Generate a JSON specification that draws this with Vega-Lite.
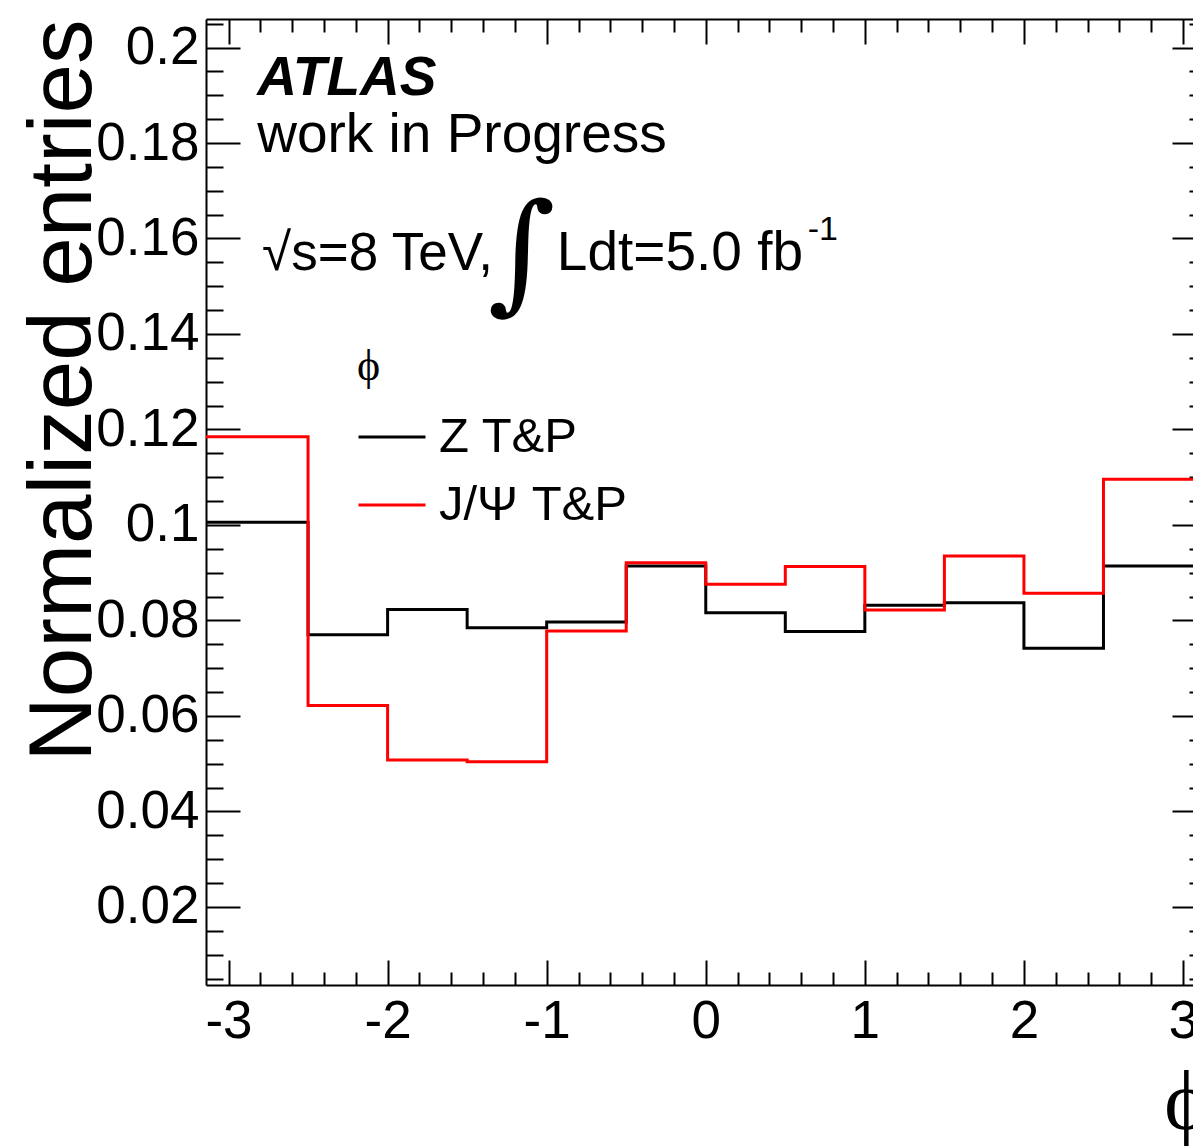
{
  "$schema": "https://vega.github.io/schema/vega-lite/v6.json",
  "width": 987,
  "height": 966,
  "autosize": {"type": "none"},
  "padding": {"left": 206, "top": 19, "right": 0, "bottom": 161},
  "background": "white",
  "config": {
    "view": {"stroke": null},
    "axis": {"grid": false, "domainColor": "black", "tickColor": "black", "labelColor": "black", "titleColor": "black"},
    "text": {"font": "Liberation Sans", "color": "black"}
  },
  "data": {
    "values": [
      {"edge": -3.1416, "sample": "Z T&P", "entries": 0.1006},
      {"edge": -2.5, "sample": "Z T&P", "entries": 0.0770},
      {"edge": -2.0, "sample": "Z T&P", "entries": 0.0823},
      {"edge": -1.5, "sample": "Z T&P", "entries": 0.0785},
      {"edge": -1.0, "sample": "Z T&P", "entries": 0.0797},
      {"edge": -0.5, "sample": "Z T&P", "entries": 0.0914},
      {"edge": 0.0, "sample": "Z T&P", "entries": 0.0816},
      {"edge": 0.5, "sample": "Z T&P", "entries": 0.0777},
      {"edge": 1.0, "sample": "Z T&P", "entries": 0.0832},
      {"edge": 1.5, "sample": "Z T&P", "entries": 0.0837},
      {"edge": 2.0, "sample": "Z T&P", "entries": 0.0742},
      {"edge": 2.5, "sample": "Z T&P", "entries": 0.0914},
      {"edge": 3.1416, "sample": "Z T&P", "entries": 0.0914},
      {"edge": -3.1416, "sample": "J/Ψ T&P", "entries": 0.1185},
      {"edge": -2.5, "sample": "J/Ψ T&P", "entries": 0.0622},
      {"edge": -2.0, "sample": "J/Ψ T&P", "entries": 0.0508},
      {"edge": -1.5, "sample": "J/Ψ T&P", "entries": 0.0504},
      {"edge": -1.0, "sample": "J/Ψ T&P", "entries": 0.0778},
      {"edge": -0.5, "sample": "J/Ψ T&P", "entries": 0.0921},
      {"edge": 0.0, "sample": "J/Ψ T&P", "entries": 0.0876},
      {"edge": 0.5, "sample": "J/Ψ T&P", "entries": 0.0913},
      {"edge": 1.0, "sample": "J/Ψ T&P", "entries": 0.0822},
      {"edge": 1.5, "sample": "J/Ψ T&P", "entries": 0.0935},
      {"edge": 2.0, "sample": "J/Ψ T&P", "entries": 0.0857},
      {"edge": 2.5, "sample": "J/Ψ T&P", "entries": 0.1096},
      {"edge": 3.1416, "sample": "J/Ψ T&P", "entries": 0.1096}
    ]
  },
  "resolve": {"axis": {"x": "independent", "y": "independent"}},
  "layer": [
    {
      "transform": [{"filter": "datum.sample === 'Z T&P'"}],
      "mark": {"type": "line", "interpolate": "step-after", "strokeWidth": 3, "clip": true},
      "encoding": {
        "x": {
          "field": "edge", "type": "quantitative",
          "scale": {"domain": [-3.1416, 3.0628], "nice": false, "zero": false},
          "axis": {
            "orient": "bottom", "values": [-3, -2, -1, 0, 1, 2, 3],
            "labelExpr": "'' + datum.value",
            "ticks": false, "tickSize": 0, "domainWidth": 2,
            "labelFont": "Liberation Sans", "labelFontSize": 53, "labelPadding": 10,
            "labelFlush": false, "labelOverlap": false,
            "title": "ϕ", "titleFont": "Liberation Serif", "titleFontSize": 84, "titleFontWeight": "normal",
            "titleAlign": "right", "titleBaseline": "alphabetic", "titleX": 1002, "titleY": 143
          }
        },
        "y": {
          "field": "entries", "type": "quantitative",
          "scale": {"domain": [0.00366, 0.20597], "nice": false, "zero": false},
          "axis": {
            "orient": "left", "values": [0.02, 0.04, 0.06, 0.08, 0.1, 0.12, 0.14, 0.16, 0.18, 0.2],
            "labelExpr": "'' + datum.value",
            "ticks": false, "tickSize": 0, "domainWidth": 2,
            "labelFont": "Liberation Sans", "labelFontSize": 53, "labelPadding": 7,
            "labelFlush": false, "labelOverlap": false,
            "title": "Normalized entries", "titleFont": "Liberation Sans", "titleFontSize": 89, "titleFontWeight": "normal",
            "titleAngle": -90, "titleAlign": "right", "titleBaseline": "alphabetic", "titleX": -116, "titleY": 0
          }
        },
        "color": {
          "field": "sample", "type": "nominal",
          "scale": {"domain": ["Z T&P", "J/Ψ T&P"], "range": ["#000000", "#ff0000"]},
          "legend": {
            "orient": "none", "legendX": 151, "legendY": 326, "padding": 0,
            "title": "ϕ", "titleFont": "Liberation Serif", "titleFontSize": 44, "titleFontWeight": "normal", "titleColor": "black", "titlePadding": 13,
            "symbolType": "stroke", "symbolStrokeWidth": 3, "symbolSize": 4489,
            "labelFont": "Liberation Sans", "labelFontSize": 49, "labelColor": "black", "labelOffset": 12, "labelLimit": 0, "rowPadding": 8
          }
        }
      }
    },
    {
      "transform": [{"filter": "datum.sample === 'J/Ψ T&P'"}],
      "mark": {"type": "line", "interpolate": "step-after", "strokeWidth": 3, "clip": true},
      "encoding": {
        "x": {"field": "edge", "type": "quantitative", "axis": null},
        "y": {"field": "entries", "type": "quantitative", "axis": null},
        "color": {"field": "sample", "type": "nominal"}
      }
    },
    {
      "data": {"values": [{}]},
      "mark": {"type": "text", "text": "ATLAS", "fontSize": 55, "fontWeight": "bold", "fontStyle": "italic", "align": "left", "baseline": "alphabetic"},
      "encoding": {
        "x": {"datum": -2.82, "type": "quantitative",
          "axis": {"orient": "bottom", "values": [-3, -2, -1, 0, 1, 2, 3], "labels": false, "domain": false, "tickSize": -25, "tickWidth": 2, "title": null}},
        "y": {"datum": 0.1901, "type": "quantitative",
          "axis": {"orient": "left", "values": [0.02, 0.04, 0.06, 0.08, 0.1, 0.12, 0.14, 0.16, 0.18, 0.2], "labels": false, "domain": false, "tickSize": -34, "tickWidth": 2, "title": null}}
      }
    },
    {
      "data": {"values": [{}]},
      "mark": {"type": "text", "text": "work in Progress", "fontSize": 55, "align": "left", "baseline": "alphabetic"},
      "encoding": {
        "x": {"datum": -2.82, "type": "quantitative",
          "axis": {"orient": "bottom", "values": [-2.8, -2.6, -2.4, -2.2, -1.8, -1.6, -1.4, -1.2, -0.8, -0.6, -0.4, -0.2, 0.2, 0.4, 0.6, 0.8, 1.2, 1.4, 1.6, 1.8, 2.2, 2.4, 2.6, 2.8], "labels": false, "domain": false, "tickSize": -13, "tickWidth": 2, "title": null}},
        "y": {"datum": 0.1781, "type": "quantitative",
          "axis": {"orient": "left", "values": [0.005, 0.01, 0.015, 0.025, 0.03, 0.035, 0.045, 0.05, 0.055, 0.065, 0.07, 0.075, 0.085, 0.09, 0.095, 0.105, 0.11, 0.115, 0.125, 0.13, 0.135, 0.145, 0.15, 0.155, 0.165, 0.17, 0.175, 0.185, 0.19, 0.195, 0.205], "labels": false, "domain": false, "tickSize": -17, "tickWidth": 2, "title": null}}
      }
    },
    {
      "data": {"values": [{}]},
      "mark": {"type": "text", "text": "√s=8 TeV,", "fontSize": 53, "align": "left", "baseline": "alphabetic"},
      "encoding": {
        "x": {"datum": -2.789, "type": "quantitative",
          "axis": {"orient": "top", "values": [-3, -2, -1, 0, 1, 2, 3], "labels": false, "domain": true, "domainWidth": 2, "tickSize": -25, "tickWidth": 2, "title": null}},
        "y": {"datum": 0.1534, "type": "quantitative",
          "axis": {"orient": "right", "values": [0.02, 0.04, 0.06, 0.08, 0.1, 0.12, 0.14, 0.16, 0.18, 0.2], "labels": false, "domain": false, "tickSize": -21, "tickWidth": 2, "title": null}}
      }
    },
    {
      "data": {"values": [{}]},
      "mark": {"type": "text", "text": "∫", "font": "DejaVu Serif", "fontSize": 130, "align": "left", "baseline": "alphabetic"},
      "encoding": {
        "x": {"datum": -1.37, "type": "quantitative",
          "axis": {"orient": "top", "values": [-2.8, -2.6, -2.4, -2.2, -1.8, -1.6, -1.4, -1.2, -0.8, -0.6, -0.4, -0.2, 0.2, 0.4, 0.6, 0.8, 1.2, 1.4, 1.6, 1.8, 2.2, 2.4, 2.6, 2.8], "labels": false, "domain": false, "tickSize": -13, "tickWidth": 2, "title": null}},
        "y": {"datum": 0.148, "type": "quantitative",
          "axis": {"orient": "right", "values": [0.005, 0.01, 0.015, 0.025, 0.03, 0.035, 0.045, 0.05, 0.055, 0.065, 0.07, 0.075, 0.085, 0.09, 0.095, 0.105, 0.11, 0.115, 0.125, 0.13, 0.135, 0.145, 0.15, 0.155, 0.165, 0.17, 0.175, 0.185, 0.19, 0.195, 0.205], "labels": false, "domain": false, "tickSize": -4, "tickWidth": 2, "title": null}}
      }
    },
    {
      "data": {"values": [{}]},
      "mark": {"type": "text", "text": "Ldt=5.0 fb", "fontSize": 55, "align": "left", "baseline": "alphabetic"},
      "encoding": {
        "x": {"datum": -0.936, "type": "quantitative", "axis": null},
        "y": {"datum": 0.1534, "type": "quantitative", "axis": null}
      }
    },
    {
      "data": {"values": [{}]},
      "mark": {"type": "text", "text": "-1", "fontSize": 34, "align": "left", "baseline": "alphabetic"},
      "encoding": {
        "x": {"datum": 0.641, "type": "quantitative", "axis": null},
        "y": {"datum": 0.1597, "type": "quantitative", "axis": null}
      }
    }
  ]
}
